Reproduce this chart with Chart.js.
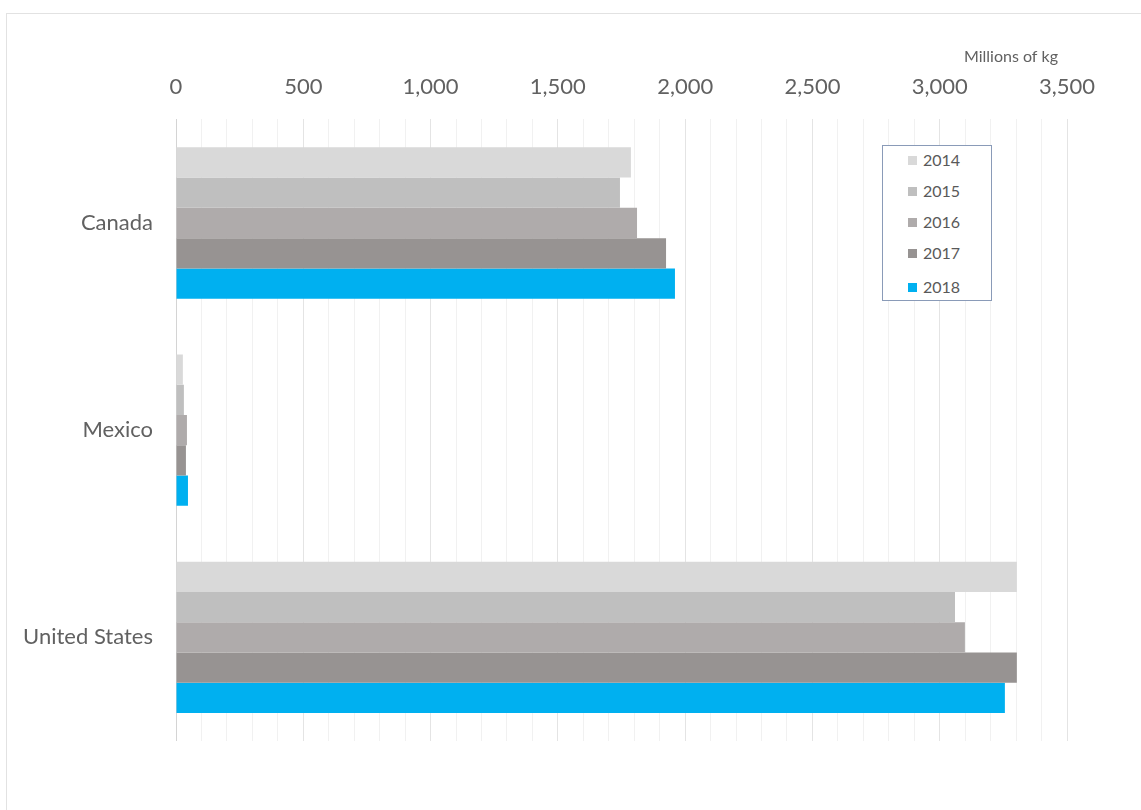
<!DOCTYPE html>
<html>
<head>
<meta charset="utf-8">
<script src="https://cdn.jsdelivr.net/npm/chart.js@4/dist/chart.umd.min.js"></script>
<style>
  html, body { margin: 0; padding: 0; background: #ffffff; }
  #wrap { position: relative; width: 1141px; height: 810px; overflow: hidden; }
  #frame { position: absolute; left: 6px; top: 13px; width: 1200px; height: 900px; border: 1px solid #e2e2e2; box-sizing: border-box; }
  canvas { position: absolute; left: 0; top: 0; }
  #legend { position: absolute; left: 882px; top: 145px; width: 110px; height: 156px; border: 1px solid #8a9bb8; box-sizing: border-box; background: #fff;
            font-family: Lato, "Open Sans", sans-serif; font-size: 16px; color: #595959; }
  .item { position: absolute; left: 25px; height: 20px; line-height: 20px; }
  .sw { display: inline-block; width: 9px; height: 9px; margin-right: 6px; vertical-align: 1px; }
</style>
</head>
<body>
<div id="wrap">
  <div id="frame"></div>
  <canvas id="c" width="1141" height="810"></canvas>
  <div id="legend"></div>
</div>
<script>
const categories = ["Canada", "Mexico", "United States"];
const years = ["2014", "2015", "2016", "2017", "2018"];
const v2014 = [1787, 27, 3303];
const v2015 = [1744, 31, 3060];
const v2016 = [1811, 43, 3099];
const v2017 = [1925, 39, 3303];
const v2018 = [1960, 47, 3256];
const colors = ["#d9d9d9", "#bfbfbf", "#afabab", "#979392", "#00b0f0"];
const axisTitle = "Millions of kg";
const xMax = 3500;

const series = [v2014, v2015, v2016, v2017, v2018];
const datasets = years.map((y, i) => ({
  label: y,
  data: series[i],
  backgroundColor: colors[i],
  borderWidth: 0,
  categoryPercentage: 0.73,
  barPercentage: 1.0
}));

const bigFont = { family: "Lato, 'Open Sans', sans-serif", size: 22 };
const smallFont = "16px Lato, 'Open Sans', sans-serif";
const textColor = "#616161";

const axisTitlePlugin = {
  id: "axisTitle",
  afterDraw(chart) {
    const ctx = chart.ctx;
    ctx.save();
    ctx.font = smallFont;
    ctx.fillStyle = textColor;
    ctx.textAlign = "right";
    ctx.textBaseline = "middle";
    ctx.fillText(axisTitle, chart.chartArea.right - 9, 57);
    ctx.restore();
  }
};

new Chart(document.getElementById("c"), {
  type: "bar",
  data: { labels: categories, datasets },
  plugins: [axisTitlePlugin],
  options: {
    indexAxis: "y",
    responsive: false,
    animation: false,
    layout: { padding: { top: 55, right: 74, bottom: 69, left: 6 } },
    plugins: { legend: { display: false }, tooltip: { enabled: false } },
    scales: {
      x: {
        position: "top",
        min: 0,
        max: xMax,
        ticks: {
          stepSize: 100,
          autoSkip: false,
          maxRotation: 0,
          padding: 19,
          color: textColor,
          font: bigFont,
          callback: (v) => (v % 500 === 0 ? v.toLocaleString("en-US") : "")
        },
        grid: {
          drawTicks: false,
          color: (ctx) => {
            const v = ctx.tick ? ctx.tick.value : 0;
            if (v === 0) return "#d4d4d4";
            return v % 500 === 0 ? "#e4e4e4" : "#f1f1f1";
          },
          lineWidth: 1
        },
        border: { display: false }
      },
      y: {
        afterFit: (s) => { s.width = 170; },
        ticks: { color: textColor, font: bigFont, padding: 15 },
        grid: { display: false },
        border: { display: false }
      }
    }
  }
});

const lg = document.getElementById("legend");
const tops = [4, 35, 66, 97, 131];
years.forEach((y, i) => {
  const d = document.createElement("div");
  d.className = "item";
  d.style.top = tops[i] + "px";
  d.innerHTML = '<span class="sw" style="background:' + colors[i] + '"></span>' + y;
  lg.appendChild(d);
});
</script>
</body>
</html>
